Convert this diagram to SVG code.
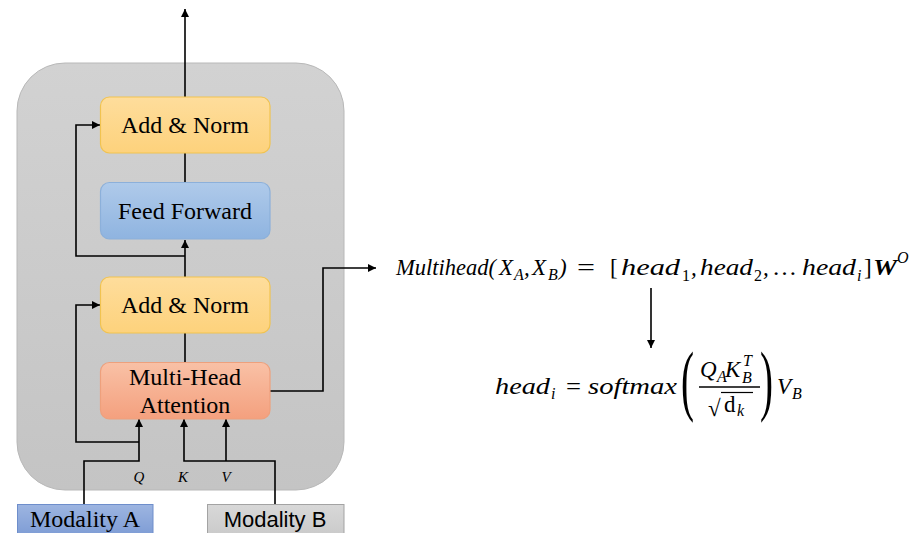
<svg xmlns="http://www.w3.org/2000/svg" width="912" height="533" viewBox="0 0 912 533">
<defs>
  <linearGradient id="gCont" x1="0" y1="0" x2="0" y2="1"><stop offset="0" stop-color="#d2d2d2"/><stop offset="1" stop-color="#c4c4c4"/></linearGradient>
  <linearGradient id="gAdd" x1="0" y1="0" x2="0" y2="1"><stop offset="0" stop-color="#fedd9c"/><stop offset="1" stop-color="#fdd27c"/></linearGradient>
  <linearGradient id="gFF" x1="0" y1="0" x2="0" y2="1"><stop offset="0" stop-color="#afcaea"/><stop offset="1" stop-color="#8fb4e0"/></linearGradient>
  <linearGradient id="gMHA" x1="0" y1="0" x2="0" y2="1"><stop offset="0" stop-color="#f9c1a6"/><stop offset="1" stop-color="#f4a07e"/></linearGradient>
  <linearGradient id="gModA" x1="0" y1="0" x2="0" y2="1"><stop offset="0" stop-color="#9db5e1"/><stop offset="1" stop-color="#7f9dd5"/></linearGradient>
  <linearGradient id="gModB" x1="0" y1="0" x2="0" y2="1"><stop offset="0" stop-color="#d8d8d8"/><stop offset="1" stop-color="#cbcbcb"/></linearGradient>
  <marker id="ah" viewBox="0 0 10 10" refX="10" refY="5" markerWidth="9" markerHeight="8" markerUnits="userSpaceOnUse" orient="auto"><path d="M0,0 L10,5 L0,10 z" fill="#000"/></marker>
</defs>
<style>
  .lbl{font-family:'Liberation Serif','DejaVu Serif','Noto Serif','Times New Roman',Times,serif;font-size:24px;fill:#000;text-anchor:middle}
  .sans{font-family:'Liberation Sans',Arial,sans-serif;font-size:22px;fill:#000;text-anchor:middle}
  .box{stroke-width:1.2}
  .conn{fill:none;stroke:#000;stroke-width:1.6}
  .m{font-family:'Liberation Serif','DejaVu Serif','Noto Serif','Times New Roman',Times,serif;font-size:23px;font-style:italic;fill:#000}
  .mu{font-family:'Liberation Serif','DejaVu Serif','Noto Serif','Times New Roman',Times,serif;font-size:23px;fill:#000}
  .big{font-family:'Liberation Serif','DejaVu Serif','Noto Serif','Times New Roman',Times,serif;font-size:78px;fill:#000}
  .sub{font-family:'Liberation Serif','DejaVu Serif','Noto Serif','Times New Roman',Times,serif;font-size:16px;font-style:italic;fill:#000}
  .subu{font-family:'Liberation Serif','DejaVu Serif','Noto Serif','Times New Roman',Times,serif;font-size:16px;fill:#000}
  .qkv{font-family:'Liberation Serif','DejaVu Serif','Noto Serif','Times New Roman',Times,serif;font-size:15px;font-style:italic;fill:#000;text-anchor:middle}
</style>
<rect id="container" x="17" y="63" width="327" height="427" rx="48" ry="48" fill="url(#gCont)" stroke="#b8b8b8" stroke-width="1"/>
<g id="connectors">
  <path class="conn" d="M185,97 V9" marker-end="url(#ah)"/>
  <path class="conn" d="M185,153 V182"/>
  <path class="conn" d="M185,277 V240" marker-end="url(#ah)"/>
  <path class="conn" d="M185,256 H76 V125 H100" marker-end="url(#ah)"/>
  <path class="conn" d="M185,333 V362"/>
  <path class="conn" d="M139,442 H76 V305 H100" marker-end="url(#ah)"/>
  <path class="conn" d="M84,504 V461 H139 V419" marker-end="url(#ah)"/>
  <path class="conn" d="M275,504 V461 H184 V419" marker-end="url(#ah)"/>
  <path class="conn" d="M226,461 V419" marker-end="url(#ah)"/>
  <path class="conn" d="M270,391 H323 V268 H376" marker-end="url(#ah)"/>
  <path class="conn" d="M651,288 V348" marker-end="url(#ah)"/>
</g>
<g id="addnorm2">
  <rect class="box" x="100.5" y="97" width="169.5" height="56" rx="9" fill="url(#gAdd)" stroke="#f1c350"/>
  <text class="lbl" x="185" y="133">Add &amp; Norm</text>
</g>
<g id="feedforward">
  <rect class="box" x="100.5" y="182.5" width="169.5" height="56.5" rx="9" fill="url(#gFF)" stroke="#8cb0da"/>
  <text class="lbl" x="185" y="219">Feed Forward</text>
</g>
<g id="addnorm1">
  <rect class="box" x="100.5" y="277" width="169.5" height="56" rx="9" fill="url(#gAdd)" stroke="#f1c350"/>
  <text class="lbl" x="185" y="313">Add &amp; Norm</text>
</g>
<g id="mha">
  <rect class="box" x="100.5" y="362.5" width="169.5" height="56.5" rx="9" fill="url(#gMHA)" stroke="#eea07c"/>
  <text class="lbl" x="185" y="385">Multi-Head</text>
  <text class="lbl" x="185" y="413">Attention</text>
</g>
<g id="qkv-labels">
  <text class="qkv" x="139" y="482">Q</text>
  <text class="qkv" x="183" y="482">K</text>
  <text class="qkv" x="226" y="482">V</text>
</g>
<g id="modalityA">
  <rect x="17.5" y="504.5" width="135.5" height="30" fill="url(#gModA)" stroke="#6e8ecb" stroke-width="1"/>
  <text class="lbl" x="85" y="527">Modality A</text>
</g>
<g id="modalityB">
  <rect x="207.5" y="504.5" width="136.5" height="30" fill="url(#gModB)" stroke="#a3a3a3" stroke-width="1"/>
  <text class="sans" x="275" y="527">Modality B</text>
</g>
<g id="formula-multihead">
  <text class="m" x="396" y="275" textLength="100" lengthAdjust="spacingAndGlyphs">Multihead(</text>
  <text class="m" x="499" y="275">X</text>
  <text class="sub" x="514" y="280">A</text>
  <text class="m" x="524" y="275">,</text>
  <text class="m" x="532" y="275">X</text>
  <text class="sub" x="548" y="280">B</text>
  <text class="m" x="559" y="275">)</text>
  <text class="mu" x="577" y="275" textLength="18" lengthAdjust="spacingAndGlyphs">=</text>
  <text class="mu" x="610" y="275">[</text>
  <text class="m" x="621" y="275" textLength="59" lengthAdjust="spacingAndGlyphs">head</text>
  <text class="subu" x="682" y="281">1</text>
  <text class="m" x="691" y="275">,</text>
  <text class="m" x="700" y="275" textLength="53" lengthAdjust="spacingAndGlyphs">head</text>
  <text class="subu" x="754" y="281">2</text>
  <text class="m" x="763" y="275">,</text>
  <text class="mu" x="772" y="275" textLength="25" lengthAdjust="spacingAndGlyphs">…</text>
  <text class="m" x="802" y="275" textLength="54" lengthAdjust="spacingAndGlyphs">head</text>
  <text class="sub" x="857" y="281">i</text>
  <text class="mu" x="864" y="275">]</text>
  <text class="m" x="873" y="275" style="font-weight:bold" textLength="24" lengthAdjust="spacingAndGlyphs">W</text>
  <text class="sub" x="897" y="263">O</text>
</g>
<g id="formula-head">
  <text class="m" x="495" y="394" textLength="55" lengthAdjust="spacingAndGlyphs">head</text>
  <text class="sub" x="551" y="399">i</text>
  <text class="mu" x="566" y="394" textLength="15" lengthAdjust="spacingAndGlyphs">=</text>
  <text class="m" x="588" y="394" textLength="89" lengthAdjust="spacingAndGlyphs">softmax</text>
  <text class="big" transform="translate(681,406) scale(0.5,1)">(</text>
  <text class="m" x="700" y="377">Q</text>
  <text class="sub" x="717" y="382">A</text>
  <text class="m" x="725" y="377">K</text>
  <text class="sub" x="742" y="383">B</text>
  <text class="sub" x="743" y="366">T</text>
  <line x1="699" y1="387" x2="760" y2="387" stroke="#000" stroke-width="1.3"/>
  <text class="mu" x="708" y="416">√</text>
  <line x1="721" y1="392.5" x2="753" y2="392.5" stroke="#000" stroke-width="1.2"/>
  <text class="mu" x="724" y="412">d</text>
  <text class="sub" x="737" y="416">k</text>
  <text class="big" transform="translate(760,406) scale(0.5,1)">)</text>
  <text class="m" x="777" y="394">V</text>
  <text class="sub" x="792" y="399">B</text>
</g>
</svg>
